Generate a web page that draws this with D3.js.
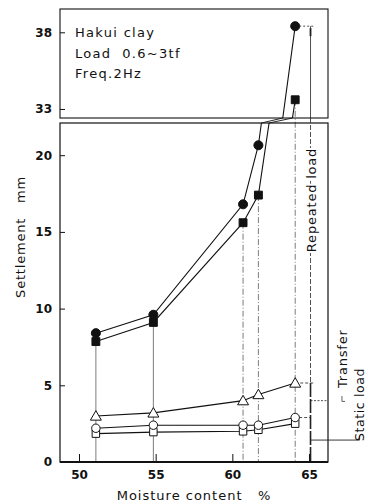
<!DOCTYPE html>
<html>
<head>
<meta charset="utf-8">
<script src="https://cdn.jsdelivr.net/npm/d3@7"></script>
<style>
  body { margin: 0; background: #fff; }
  svg text { font-family: "DejaVu Sans", sans-serif; fill: #111; }
</style>
</head>
<body>
<div id="chart"></div>
<script>
// Moisture content (%) of each test
const moisture = [51.1, 54.85, 60.7, 61.7, 64.1];
// Settlement (mm)
const repeatedCircle = [8.4, 9.6, 16.8, 20.65, 38.4];
const repeatedSquare = [7.85, 9.1, 15.6, 17.4, 33.6];
const transferTri = [3.0, 3.2, 4.0, 4.4, 5.15];
const staticCircle = [2.2, 2.4, 2.4, 2.4, 2.9];
const staticSquare = [1.85, 1.95, 2.0, 2.1, 2.5];
// ticks
const xTicks = [50, 55, 60, 65];
const yTicksLow = [0, 5, 10, 15, 20];
const yTicksHigh = [33, 38];
const noteLines = ["Hakui clay", "Load  0.6~3tf", "Freq.2Hz"];

const width = 368, height = 504;

// escalas: mismo mm/px en los dos paneles
const xs = d3.scaleLinear().domain([48.76, 66.24]).range([60, 328]);
const lowMax = 22.1, highMin = 32.41;
const yL = d3.scaleLinear().domain([0, lowMax]).range([462, 123]);
const yU = d3.scaleLinear().domain([highMin, 39.52]).range([118, 9]);

const svg = d3.select("#chart").append("svg")
    .attr("width", width)
    .attr("height", height);

const defs = svg.append("defs");
defs.append("clipPath").attr("id", "clipLow").append("rect")
    .attr("x", 60).attr("y", yL(lowMax)).attr("width", 268).attr("height", yL(0) - yL(lowMax));
defs.append("clipPath").attr("id", "clipHigh").append("rect")
    .attr("x", 60).attr("y", yU.range()[1]).attr("width", 268).attr("height", yU.range()[0] - yU.range()[1]);

// punto en el panel que le toca
const yOf = v => v > lowMax ? yU(v) : yL(v);

// lineas verticales hasta el eje
const drop = svg.append("g");
moisture.forEach((m, i) => {
    drop.append("line")
        .attr("x1", xs(m)).attr("x2", xs(m))
        .attr("y1", yOf(repeatedSquare[i])).attr("y2", yL(0))
        .attr("stroke", "#444").attr("stroke-width", 0.7)
        .attr("stroke-dasharray", i < 2 ? null : "6,2,1,2");
});

// marcos
svg.append("rect").attr("x", 60).attr("y", yU.range()[1]).attr("width", 268)
    .attr("height", yU.range()[0] - yU.range()[1])
    .attr("fill", "none").attr("stroke", "#111").attr("stroke-width", 1.1);
svg.append("rect").attr("x", 60).attr("y", yL(lowMax)).attr("width", 268)
    .attr("height", yL(0) - yL(lowMax))
    .attr("fill", "none").attr("stroke", "#111").attr("stroke-width", 1.2);
svg.append("line").attr("x1", 60).attr("x2", 328).attr("y1", yL(0)).attr("y2", yL(0))
    .attr("stroke", "#111").attr("stroke-width", 2);

// ejes
const axLow = svg.append("g").attr("transform", "translate(60,0)")
    .call(d3.axisLeft(yL).tickValues(yTicksLow).tickSize(-5).tickPadding(8));
const axHigh = svg.append("g").attr("transform", "translate(60,0)")
    .call(d3.axisLeft(yU).tickValues(yTicksHigh).tickSize(-5).tickPadding(8));
const axX = svg.append("g").attr("transform", `translate(0,${yL(0)})`)
    .call(d3.axisBottom(xs).tickValues(xTicks).tickSize(-8).tickPadding(8));
[axLow, axHigh, axX].forEach(ax => {
    ax.select(".domain").remove();
    ax.selectAll("line").attr("stroke", "#111").attr("stroke-width", 1);
    ax.selectAll("text").style("font-size", "12px").style("font-weight", "bold")
        .style("font-family", "'DejaVu Sans', sans-serif").attr("fill", "#111");
});

// series
const lineLow = d3.line().x((d, i) => xs(moisture[i])).y(d => yL(d));
const lineHigh = d3.line().x((d, i) => xs(moisture[i])).y(d => yU(d));
const crossX = (x1, y1, x2, y2, yc) => x1 + (x2 - x1) * (yc - y1) / (y2 - y1);

function drawLine(values) {
    svg.append("path").datum(values).attr("d", lineLow)
        .attr("clip-path", "url(#clipLow)")
        .attr("fill", "none").attr("stroke", "#111").attr("stroke-width", 1.1);
    if (d3.max(values) <= lowMax) return;
    svg.append("path").datum(values).attr("d", lineHigh)
        .attr("clip-path", "url(#clipHigh)")
        .attr("fill", "none").attr("stroke", "#111").attr("stroke-width", 1.1);
    // tramo que cruza el corte entre paneles
    for (let i = 0; i < values.length - 1; i++) {
        if (values[i] <= lowMax && values[i + 1] > lowMax) {
            const x1 = xs(moisture[i]), x2 = xs(moisture[i + 1]);
            const xa = crossX(x1, yL(values[i]), x2, yL(values[i + 1]), yL(lowMax));
            const xb = crossX(x1, yU(values[i]), x2, yU(values[i + 1]), yU(highMin));
            svg.append("line").attr("x1", xa).attr("y1", yL(lowMax))
                .attr("x2", xb).attr("y2", yU(highMin))
                .attr("stroke", "#111").attr("stroke-width", 0.9);
        }
    }
}
[repeatedCircle, repeatedSquare, transferTri, staticSquare, staticCircle].forEach(drawLine);

function drawMarks(values, shape, filled) {
    const sym = d3.symbol().type(shape.type).size(shape.size);
    svg.append("g").selectAll("path").data(values).join("path")
        .attr("d", sym)
        .attr("transform", (d, i) => `translate(${xs(moisture[i])},${yOf(d) + (shape.dy || 0)})`)
        .attr("fill", filled ? "#111" : "#fff")
        .attr("stroke", "#111").attr("stroke-width", 1);
}
drawMarks(transferTri, { type: d3.symbolTriangle, size: 52, dy: 1 }, false);
drawMarks(staticSquare, { type: d3.symbolSquare, size: 56 }, false);
drawMarks(staticCircle, { type: d3.symbolCircle, size: 56 }, false);
drawMarks(repeatedSquare, { type: d3.symbolSquare, size: 62 }, true);
drawMarks(repeatedCircle, { type: d3.symbolCircle, size: 64 }, true);

// nota del ensayo
svg.append("g").selectAll("text").data(noteLines).join("text")
    .attr("x", 75).attr("y", (d, i) => 37 + i * 20.5)
    .style("font-size", "13px").style("letter-spacing", "1.3px")
    .attr("xml:space", "preserve")
    .text(d => d);

// llaves de la derecha
const xb = xs(65.1);
const last = moisture.length - 1;
const note = svg.append("g").attr("stroke", "#222").attr("fill", "none");
note.append("line").attr("x1", xs(moisture[last]) + 4).attr("x2", xs(65.4))
    .attr("y1", yU(repeatedCircle[last])).attr("y2", yU(repeatedCircle[last]))
    .attr("stroke-width", 0.8).attr("stroke-dasharray", "2,2");
note.append("line").attr("x1", xb).attr("x2", xb)
    .attr("y1", yU(repeatedCircle[last])).attr("y2", yU(highMin))
    .attr("stroke-width", 0.8);
note.append("line").attr("x1", xb).attr("x2", xb)
    .attr("y1", yU(highMin)).attr("y2", yL(transferTri[last]))
    .attr("stroke-width", 0.8).attr("stroke-dasharray", "5,2");
note.append("line").attr("x1", xb).attr("x2", xb)
    .attr("y1", yU(repeatedCircle[last]) + 2).attr("y2", yU(repeatedCircle[last]) + 10)
    .attr("stroke-width", 1.8);
note.append("line").attr("x1", xb).attr("x2", xb)
    .attr("y1", yL(transferTri[last])).attr("y2", yL(0))
    .attr("stroke-width", 1.6).attr("stroke-dasharray", "14,2");
note.append("line").attr("x1", xs(moisture[last]) + 5).attr("x2", xs(65.4))
    .attr("y1", yL(transferTri[last])).attr("y2", yL(transferTri[last]))
    .attr("stroke-width", 0.8).attr("stroke-dasharray", "3,2");
note.append("line").attr("x1", xb).attr("x2", xs(66.2))
    .attr("y1", yL(4.0)).attr("y2", yL(4.0))
    .attr("stroke-width", 0.8).attr("stroke-dasharray", "2,1.5");
note.append("line").attr("x1", xs(moisture[last]) + 4).attr("x2", xb)
    .attr("y1", yL(staticCircle[last])).attr("y2", yL(staticCircle[last]))
    .attr("stroke-width", 0.8).attr("stroke-dasharray", "3,2");
note.append("path")
    .attr("d", `M${xb},${yL(1.43)}H${xs(68.3)}V${yL(1.43) - 4}`)
    .attr("stroke-width", 0.9);
note.append("path")
    .attr("d", `M${xs(67.15)},${yL(4.3)}V${yL(3.95)}H${xs(67.35)}`)
    .attr("stroke-width", 0.7);

function vText(txt, x, y, anchor, halo) {
    const t = svg.append("text")
        .attr("transform", `translate(${x},${y}) rotate(-90)`)
        .attr("text-anchor", anchor)
        .style("font-size", "13px").style("letter-spacing", "0.8px")
        .text(txt);
    if (halo) t.attr("stroke", "#fff").attr("stroke-width", 4).attr("paint-order", "stroke");
    return t;
}
vText("Repeated load", 316, 200, "middle", true);
vText("Transfer", 347, 388, "start", false);
vText("Static load", 364, 441, "start", false).style("font-size", "12.5px").style("letter-spacing", "0.6px");

// titulos de ejes
svg.append("text")
    .attr("transform", `translate(25,237) rotate(-90)`)
    .attr("text-anchor", "middle")
    .attr("xml:space", "preserve")
    .style("font-size", "13px").style("letter-spacing", "0.8px")
    .text("Settlement   mm");
svg.append("text")
    .attr("x", 194).attr("y", 500)
    .attr("text-anchor", "middle")
    .attr("xml:space", "preserve")
    .style("font-size", "13px").style("letter-spacing", "1px")
    .text("Moisture content   %");
</script>
</body>
</html>
